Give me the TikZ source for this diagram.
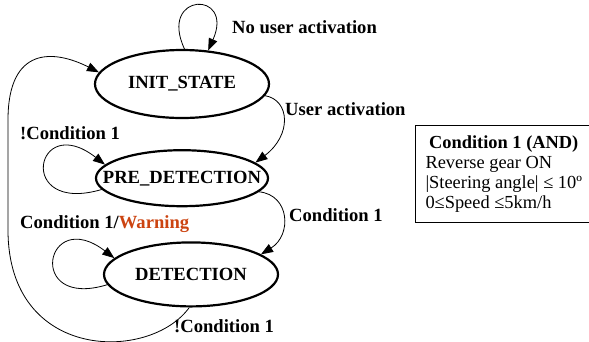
\documentclass[tikz,border=0pt]{standalone}
\usepackage{fontspec}
\setmainfont{Liberation Serif}
\usepackage{xcolor}
\usepackage{tikz}
\usetikzlibrary{shapes.geometric, arrows.meta, positioning}
\definecolor{warncolor}{RGB}{204, 68, 17}

\begin{document}
\begin{tikzpicture}[
    x=1bp, y=-1bp,
    statenode/.style={draw, ellipse, line width=2.2bp, minimum width=174bp, minimum height=66bp, inner xsep=-25bp, inner ysep=0pt, font=\fontsize{18.6bp}{20bp}\selectfont\bfseries},
    arrow/.style={-{Triangle[length=12bp, width=9bp]}, line width=0.8bp},
    edgelabel/.style={anchor=base west, inner sep=0pt, font=\fontsize{18.6bp}{20bp}\selectfont\bfseries},
    condbox/.style={draw, line width=0.8bp, anchor=west, inner xsep=10bp, minimum width=174bp, minimum height=97bp, font=\fontsize{18.4bp}{20bp}\selectfont}
]
    \useasboundingbox (0,0) rectangle (589,341);

    % States
    \node[statenode, minimum height=68bp] (init) at (182,84) {INIT\_STATE};
    \node[statenode, minimum width=172bp, minimum height=56bp, below=30bp of init] (pre) {PRE\_DETECTION};
    \node[statenode, minimum height=64bp, below=34bp of pre, xshift=9bp] (det) {DETECTION};
    \node[condbox, right=146bp of pre, yshift=4bp] (cond) {\begin{tabular}{@{}l@{}}
        \multicolumn{1}{@{}c@{}}{\bfseries Condition 1 (AND)}\\
        Reverse gear ON\\
        |Steering angle| ≤ 10º\\
        0≤Speed ≤5km/h
    \end{tabular}};

    % Transitions
    \draw[arrow] (init.86) .. controls (158,-8) and (235,-10) .. (init.52);
    \draw[arrow] (init.-8) .. controls (290,100) and (292,135) .. (pre.12);
    \draw[arrow] (pre.188) .. controls (15,215) and (35,110) .. (pre.170);
    \draw[arrow] (pre.-10) .. controls (290,195) and (292,235) .. (det.16);
    \draw[arrow] (det.187) .. controls (25,310) and (45,205) .. (det.168);
    \draw[arrow] (det.-93) .. controls (150,362) and (8,362) .. (8,230) -- (8,120) .. controls (8,45) and (55,50) .. (init.172);

    % Labels
    \node[edgelabel] (lnouser) at (232,33) {No user activation};
    \node[edgelabel] (luser) at (285,115) {User activation};
    \node[edgelabel] (lnotpre) at (20,139) {!Condition 1};
    \node[edgelabel] (lcondpre) at (289,221) {Condition 1};
    \node[edgelabel] (lconddet) at (20,228) {Condition 1/\textcolor{warncolor}{Warning}};
    \node[edgelabel] (lnotdet) at (174,332) {!Condition 1};
\end{tikzpicture}
\end{document}
